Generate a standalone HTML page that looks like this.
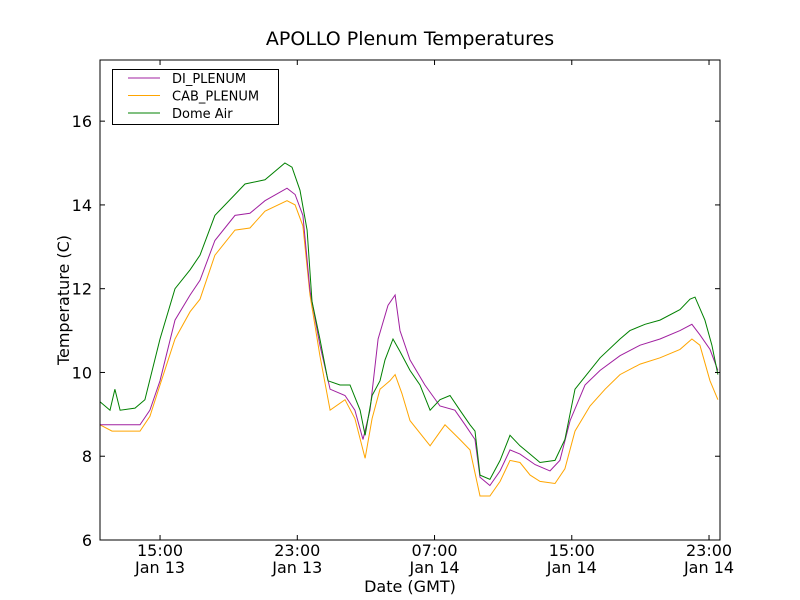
<!DOCTYPE html>
<html><head><meta charset="utf-8"><style>
body{margin:0;background:#fff;}
svg{display:block;font-family:"DejaVu Sans","Liberation Sans",sans-serif;}
</style></head><body>
<svg id="chart" width="800" height="600"></svg>
<script>
const seriesNames=["DI_PLENUM","CAB_PLENUM","Dome Air"];
const seriesColors=["#a020a0","#ffa500","#008000"];
const xTickHours=[15,23,31,39,47];
const xTickLabels1=["15:00","23:00","07:00","15:00","23:00"];
const xTickLabels2=["Jan 13","Jan 13","Jan 14","Jan 14","Jan 14"];
const yTicks=[6,8,10,12,14,16];
const domeT=[11.5,12.08,12.37,12.67,13.54,14.12,15.0,15.87,16.75,17.33,18.2,19.37,19.95,21.12,22.28,22.69,23.16,23.57,23.86,24.32,24.79,25.49,26.07,26.66,26.95,27.36,27.82,28.11,28.58,28.99,29.57,30.15,30.74,31.32,31.9,32.48,33.07,33.36,33.65,34.23,34.82,35.4,35.98,36.57,37.15,38.02,38.6,39.19,40.06,40.65,41.81,42.39,43.27,44.14,45.31,45.89,46.18,46.76,47.17,47.52];
const domeV=[9.3,9.1,9.6,9.1,9.15,9.35,10.8,12.0,12.45,12.8,13.75,14.25,14.5,14.6,15.0,14.9,14.35,13.4,11.7,10.8,9.8,9.7,9.7,9.1,8.5,9.45,9.8,10.3,10.8,10.5,10.05,9.7,9.1,9.35,9.45,9.1,8.75,8.6,7.55,7.45,7.9,8.5,8.25,8.05,7.85,7.9,8.4,9.6,10.05,10.35,10.8,11.0,11.15,11.25,11.5,11.75,11.8,11.25,10.65,9.95];
const diT=[11.5,12.67,13.83,14.41,15.0,15.87,16.75,17.33,18.2,19.37,20.24,21.12,22.4,22.87,23.33,23.74,24.32,24.91,25.78,26.36,26.83,27.24,27.71,28.29,28.7,28.99,29.57,30.44,31.32,32.19,32.78,33.36,33.65,34.23,34.82,35.4,35.98,36.86,37.73,38.31,38.9,39.77,40.65,41.81,42.98,44.14,45.31,46.0,46.47,47.06,47.52];
const diV=[8.75,8.75,8.75,9.1,9.8,11.25,11.85,12.2,13.15,13.75,13.8,14.1,14.4,14.25,13.75,11.95,10.65,9.6,9.45,9.1,8.4,9.1,10.8,11.6,11.85,11.0,10.3,9.7,9.2,9.1,8.75,8.4,7.5,7.3,7.65,8.15,8.05,7.8,7.65,7.9,8.85,9.7,10.05,10.4,10.65,10.8,11.0,11.15,10.9,10.55,10.05];
const cabT=[11.5,12.2,12.96,13.83,14.41,15.0,15.87,16.75,17.33,18.2,19.37,20.24,21.12,22.4,22.87,23.33,23.74,24.32,24.91,25.78,26.36,26.95,27.36,27.82,28.4,28.7,29.1,29.57,30.74,31.61,32.48,33.07,33.65,34.23,34.82,35.4,35.98,36.57,37.15,38.02,38.6,39.19,40.06,40.94,41.81,42.98,44.14,45.31,46.0,46.47,47.06,47.52];
const cabV=[8.75,8.6,8.6,8.6,8.95,9.7,10.8,11.45,11.75,12.8,13.4,13.45,13.85,14.1,14.0,13.5,11.85,10.4,9.1,9.35,8.9,7.95,8.9,9.6,9.8,9.95,9.5,8.85,8.25,8.75,8.4,8.15,7.05,7.05,7.4,7.9,7.85,7.55,7.4,7.35,7.7,8.6,9.2,9.6,9.95,10.2,10.35,10.55,10.8,10.65,9.8,9.35];
const X0=100,X1=720,Y0=60,Y1=540,xmin=11.5,xmax=47.64,ymin=6,ymax=17.46;
const sx=t=>X0+(t-xmin)/(xmax-xmin)*(X1-X0);
const sy=v=>Y1-(v-ymin)/(ymax-ymin)*(Y1-Y0);
const svg=document.getElementById('chart');
const NS="http://www.w3.org/2000/svg";
function mk(tag,attrs,parent){const e=document.createElementNS(NS,tag);for(const k in attrs)e.setAttribute(k,attrs[k]);(parent||svg).appendChild(e);return e;}
const title=mk('text',{x:410,y:45,'text-anchor':'middle','font-size':19});title.textContent="APOLLO Plenum Temperatures";


const series=[[diT,diV],[cabT,cabV],[domeT,domeV]];
const order=[1,0,2];
order.forEach(i=>{const [T,V]=series[i];
const p=mk('polyline',{points:T.map((t,j)=>sx(t).toFixed(1)+','+sy(V[j]).toFixed(1)).join(' '),fill:'none',stroke:seriesColors[i],'stroke-width':1});

});
const frame=mk('rect',{x:X0,y:Y0,width:X1-X0,height:Y1-Y0,fill:'none',stroke:'#000','stroke-width':1});


yTicks.forEach(v=>{const y=sy(v);
mk('line',{x1:X0,x2:X0+5,y1:y,y2:y,stroke:'#000'});mk('line',{x1:X1,x2:X1-5,y1:y,y2:y,stroke:'#000'});
const t=mk('text',{x:X0-8,y:y+6,'text-anchor':'end','font-size':16});t.textContent=v;

});
xTickHours.forEach((h,i)=>{const x=sx(h);
mk('line',{x1:x,x2:x,y1:Y1,y2:Y1-5,stroke:'#000'});mk('line',{x1:x,x2:x,y1:Y0,y2:Y0+5,stroke:'#000'});
const t=mk('text',{x:x,y:556,'text-anchor':'middle','font-size':16});t.textContent=xTickLabels1[i];


const t2=mk('text',{x:x,y:573,'text-anchor':'middle','font-size':16});t2.textContent=xTickLabels2[i];

});
const xt=mk('text',{x:410,y:592,'text-anchor':'middle','font-size':16});xt.textContent="Date (GMT)";


const yt=mk('text',{x:0,y:0,'text-anchor':'middle','font-size':16,transform:'translate(69,300) rotate(-90)'});yt.textContent="Temperature (C)";


const lg=mk('g',{});


mk('rect',{x:112.5,y:69.5,width:166,height:55,fill:'#fff',stroke:'#000'},lg);
seriesNames.forEach((n,i)=>{const y=78+i*17.5;
mk('line',{x1:128,x2:160,y1:y,y2:y,stroke:seriesColors[i]},lg);
const t=mk('text',{x:172,y:y+5,'font-size':13},lg);t.textContent=n;

});
</script>
</body></html>
